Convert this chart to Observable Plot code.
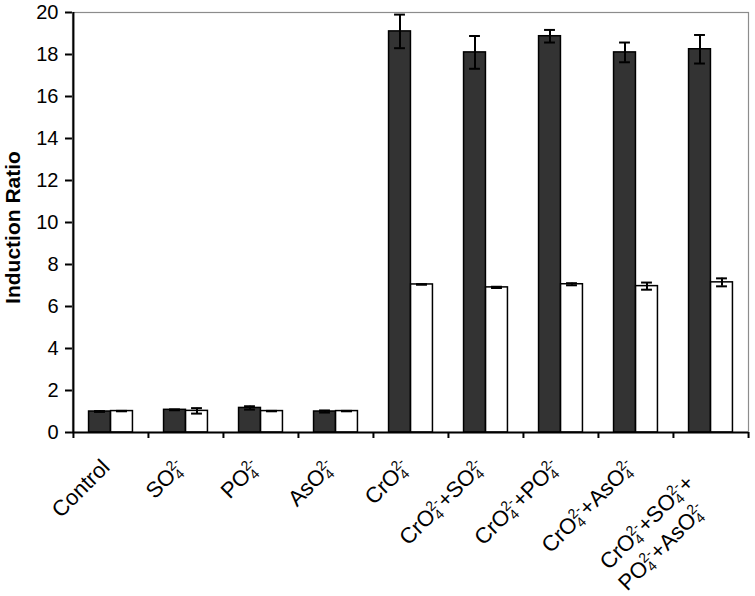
<!DOCTYPE html>
<html>
<head>
<meta charset="utf-8">
<script src="https://cdn.jsdelivr.net/npm/d3@7"></script>
<script src="https://cdn.jsdelivr.net/npm/@observablehq/plot@0.6"></script>
<style>
  html, body { margin: 0; padding: 0; background: #fff; }
  #chart svg { display: block; }
  #chart svg [aria-label^="y-axis"] line,
  #chart svg [aria-label^="y-axis"] path { stroke: #000; stroke-width: 2; }
</style>
</head>
<body>
<div id="chart"></div>
<script>
// ---- data ----
const categories = ["Control", "SO4", "PO4", "AsO4", "CrO4", "CrO4+SO4", "CrO4+PO4", "CrO4+AsO4", "CrO4+SO4+PO4+AsO4"];
const tickLabels = [
  "Control",
  "SO_4^2-",
  "PO_4^2-",
  "AsO_4^2-",
  "CrO_4^2-",
  "CrO_4^2-+SO_4^2-",
  "CrO_4^2-+PO_4^2-",
  "CrO_4^2-+AsO_4^2-",
  "CrO_4^2-+SO_4^2-+\nPO_4^2-+AsO_4^2-"
];
const darkValues  = [1.00, 1.08, 1.17, 1.00, 19.10, 18.10, 18.87, 18.10, 18.25];
const darkErrors  = [0.02, 0.02, 0.08, 0.05, 0.80, 0.78, 0.30, 0.47, 0.68];
const whiteValues = [1.02, 1.03, 1.02, 1.02, 7.05, 6.91, 7.06, 6.97, 7.15];
const whiteErrors = [0.01, 0.13, 0.01, 0.01, 0.01, 0.03, 0.05, 0.17, 0.19];
const yTicks = [0, 2, 4, 6, 8, 10, 12, 14, 16, 18, 20];
const yLabel = "Induction Ratio";

// ---- layout ----
const W = 755, H = 596, mt = 12, mr = 7, mb = 164, ml = 72;
const step = (W - ml - mr) / categories.length;
const half = step / 2;
const barW = 22;
const capHalf = 5.5;
const pxPerUnit = (H - mt - mb) / 20;
const tickLen = 6 / pxPerUnit;

const data = categories.map((c, i) => ({
  cat: c,
  dark: darkValues[i], darkLo: darkValues[i] - darkErrors[i], darkHi: darkValues[i] + darkErrors[i],
  white: whiteValues[i], whiteLo: whiteValues[i] - whiteErrors[i], whiteHi: whiteValues[i] + whiteErrors[i]
}));
const plain = s => s.replace(/_4\^2-/g, "42-").replace("\n", " ");
const labelMap = new Map(tickLabels.map(s => [plain(s), s]));

const chart = Plot.plot({
  width: W, height: H,
  marginTop: mt, marginRight: mr, marginBottom: mb, marginLeft: ml,
  style: { fontFamily: "'Liberation Sans', Arial, sans-serif", fontSize: "20px", color: "#000", background: "#fff" },
  x: { domain: categories, padding: 0, axis: null },
  y: { domain: [0, 20], ticks: yTicks, tickSize: 7, tickPadding: 7, label: null },
  marks: [
    Plot.frame({ stroke: "#8c8c8c", strokeWidth: 1.2 }),
    // dark bars
    Plot.barY(data, { x: "cat", y: "dark", fill: "#333333", stroke: "#000", strokeWidth: 1.5,
      insetLeft: half - barW, insetRight: half }),
    // white bars
    Plot.barY(data, { x: "cat", y: "white", fill: "#ffffff", stroke: "#000", strokeWidth: 1.5,
      insetLeft: half, insetRight: half - barW }),
    // error bars (dark)
    Plot.ruleX(data, { x: "cat", y1: "darkLo", y2: "darkHi", dx: -barW / 2, stroke: "#000", strokeWidth: 2 }),
    Plot.tickY(data, { x: "cat", y: "darkHi", dx: -barW / 2, insetLeft: half - capHalf, insetRight: half - capHalf, stroke: "#000", strokeWidth: 2 }),
    Plot.tickY(data, { x: "cat", y: "darkLo", dx: -barW / 2, insetLeft: half - capHalf, insetRight: half - capHalf, stroke: "#000", strokeWidth: 2 }),
    // error bars (white)
    Plot.ruleX(data, { x: "cat", y1: "whiteLo", y2: "whiteHi", dx: barW / 2, stroke: "#000", strokeWidth: 2 }),
    Plot.tickY(data, { x: "cat", y: "whiteHi", dx: barW / 2, insetLeft: half - capHalf, insetRight: half - capHalf, stroke: "#000", strokeWidth: 2 }),
    Plot.tickY(data, { x: "cat", y: "whiteLo", dx: barW / 2, insetLeft: half - capHalf, insetRight: half - capHalf, stroke: "#000", strokeWidth: 2 }),
    // axes lines
    Plot.ruleX([categories[0]], { x: d => d, dx: -half, stroke: "#000", strokeWidth: 2 }),
    Plot.ruleY([0], { stroke: "#000", strokeWidth: 2 }),
    // category boundary ticks
    Plot.ruleX(categories, { x: d => d, dx: -half, y1: () => 0, y2: () => -tickLen, stroke: "#000", strokeWidth: 2 }),
    Plot.ruleX([categories[categories.length - 1]], { x: d => d, dx: half, y1: () => 0, y2: () => -tickLen, stroke: "#000", strokeWidth: 2 }),
    // category labels
    Plot.text(categories, { x: d => d, y: () => 0, text: (d, i) => plain(tickLabels[i]),
      textAnchor: "end", lineAnchor: "bottom", rotate: -45, dy: 36, fontSize: 22, fill: "#000" }),
    // y label
    Plot.text([yLabel], { frameAnchor: "left", dx: -59, dy: 5, rotate: -90, text: d => d,
      fontWeight: "bold", fontSize: 21, fill: "#000", textAnchor: "middle", lineAnchor: "middle" })
  ]
});

document.getElementById("chart").append(chart);

// rich text for chemical formulas (subscript 4 stacked under superscript 2-)
const subSize = 14, subW = 14 * 0.556;
d3.select(chart).selectAll("text").each(function () {
  const key = this.textContent;
  if (!labelMap.has(key)) return;
  const markup = labelMap.get(key);
  const t = d3.select(this);
  t.text(null);
  const lines = markup.split("\n");
  const multi = lines.length > 1;
  const lineX = multi ? [-22, -34] : [0];
  let pending = 0;
  lines.forEach((line, li) => {
    const parts = line.split(/(_4\^2-)/).filter(p => p);
    parts.forEach((p, pi) => {
      if (p === "_4^2-") {
        t.append("tspan").attr("font-size", subSize).attr("dy", 4 + pending).text("4");
        t.append("tspan").attr("font-size", subSize).attr("dx", -subW).attr("dy", -12).text("2-");
        pending = 8;
      } else {
        const s = t.append("tspan").text(p);
        if (pending) s.attr("dy", pending);
        pending = 0;
      }
      if (pi === 0 && multi) {
        const nodes = t.selectAll("tspan").nodes();
        const first = nodes[nodes.length - (p === "_4^2-" ? 2 : 1)];
        d3.select(first).attr("x", lineX[li]);
        if (li > 0) {
          const cur = +d3.select(first).attr("dy") || 0;
          d3.select(first).attr("dy", cur + 28);
        }
      }
    });
  });
});
</script>
</body>
</html>
